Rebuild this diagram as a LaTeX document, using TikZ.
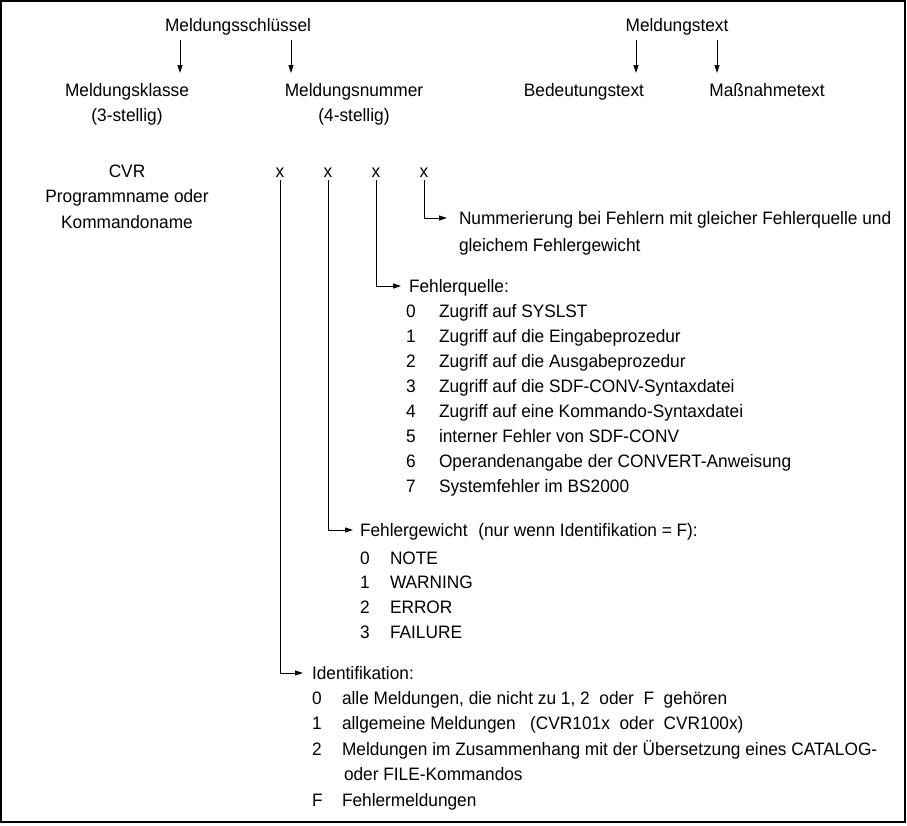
\documentclass[tikz,border=0pt]{standalone}
\usepackage{fontspec}
\setmainfont{Liberation Sans}[FakeStretch=0.96]
\usetikzlibrary{arrows.meta,calc}
\begin{document}
\begin{tikzpicture}[x=1pt,y=-1pt,
  every node/.style={inner sep=0pt,outer sep=0pt,font=\fontsize{18}{25}\selectfont},
  lbl/.style={anchor=base},
  txt/.style={anchor=base west},
  hd/.style={anchor=west,text height=13pt,text depth=0pt},
  xx/.style={anchor=base,text height=9.5pt,text depth=0pt},
  arr/.style={line width=0.9pt,-{Triangle[length=8pt,width=5pt]}},
  ln/.style={line width=0.9pt}]
\useasboundingbox (0,0) rectangle (907,825);
\draw[line width=1.2pt] (1,1) rectangle (905,822);

% top headings
\node[lbl] (ms) at (238,31) {Meldungsschlüssel};
\node[lbl] (mt) at (677,31) {Meldungstext};
\node[lbl] (mk) at (127,96) {Meldungsklasse};
\node[lbl] (mk2) at (127,121) {(3-stellig)};
\node[lbl] (mn) at (354,96) {Meldungsnummer};
\node[lbl] (mn2) at (354,121) {(4-stellig)};
\node[lbl] (bt) at (584,96) {Bedeutungstext};
\node[lbl] (mat) at (767,96) {Maßnahmetext};

\coordinate (a1s) at (180,40); \coordinate (a1e) at (180,73);
\coordinate (a2s) at (291,40); \coordinate (a2e) at (291,73);
\coordinate (a3s) at (636,40); \coordinate (a3e) at (636,73);
\coordinate (a4s) at (717,40); \coordinate (a4e) at (717,73);
\draw[arr] (a1s) -- (a1e);
\draw[arr] (a2s) -- (a2e);
\draw[arr] (a3s) -- (a3e);
\draw[arr] (a4s) -- (a4e);

% CVR column
\node[lbl] (cvr) at (127,177) {CVR};
\node[lbl] (pn) at (127,202) {Programmname oder};
\node[lbl] (kn) at (127,228) {Kommandoname};

% x positions
\node[xx] (x1) at (280,177) {x};
\node[xx] (x2) at (328,177) {x};
\node[xx] (x3) at (376,177) {x};
\node[xx] (x4) at (424,177) {x};

% Nummerierung
\node[hd] (num) at (459,218) {Nummerierung bei Fehlern mit gleicher Fehlerquelle und};
\node[txt] (num2) at (459,251) {gleichem Fehlergewicht};
\draw[arr] ([yshift=-3pt]x4.south) |- ([xshift=-12pt]num.west);

% Fehlerquelle
\node[hd] (fq) at (409,286) {Fehlerquelle:};
\draw[arr] ([yshift=-3pt]x3.south) |- ([xshift=-8pt]fq.west);
\foreach \n/\t [count=\i from 0] in {0/Zugriff auf SYSLST,1/Zugriff auf die Eingabeprozedur,2/Zugriff auf die Ausgabeprozedur,3/Zugriff auf die SDF-CONV-Syntaxdatei,4/Zugriff auf eine Kommando-Syntaxdatei,5/interner Fehler von SDF-CONV,6/Operandenangabe der CONVERT-Anweisung,7/Systemfehler im BS2000}{
  \node[txt] (fqn\i) at (406,317+\i*25) {\n};
  \node[txt] (fqt\i) at (439,317+\i*25) {\t};
}

% Fehlergewicht
\node[hd] (fg) at (360,530) {Fehlergewicht\hspace{6pt} (nur wenn Identifikation = F):};
\draw[arr] ([yshift=-3pt]x2.south) |- ([xshift=-7pt]fg.west);
\foreach \n/\t [count=\i from 0] in {0/NOTE,1/WARNING,2/ERROR,3/FAILURE}{
  \node[txt] (fgn\i) at (360,564+\i*24.7) {\n};
  \node[txt] (fgt\i) at (390,564+\i*24.7) {\t};
}

% Identifikation
\node[hd] (id) at (312,673) {Identifikation:};
\draw[arr] ([yshift=-3pt]x1.south) |- ([xshift=-9pt]id.west);
\node[txt] (idn0) at (312,704) {0};
\node[txt] (idt0) at (342,704) {alle Meldungen, die nicht zu 1, 2\ \ oder\ \ F\ \ gehören};
\node[txt] (idn1) at (312,729) {1};
\node[txt] (idt1) at (342,729) {allgemeine Meldungen\ \ \ (CVR101x\ \ oder\ \ CVR100x)};
\node[txt] (idn2) at (312,755) {2};
\node[txt] (idt2) at (342,755) {Meldungen im Zusammenhang mit der Übersetzung eines CATALOG-};
\node[txt] (idt2b) at (344,780) {oder FILE-Kommandos};
\node[txt] (idn3) at (312,806) {F};
\node[txt] (idt3) at (342,806) {Fehlermeldungen};
\end{tikzpicture}
\end{document}
